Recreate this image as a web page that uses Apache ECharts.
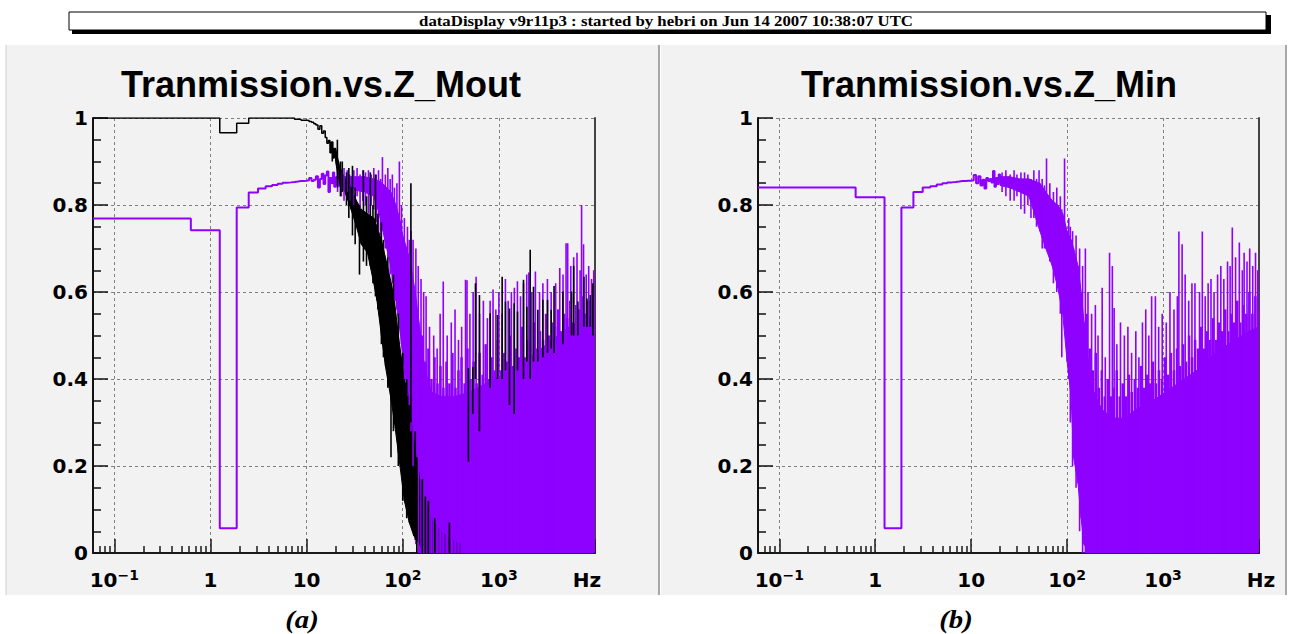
<!DOCTYPE html>
<html><head><meta charset="utf-8">
<script src="https://cdn.jsdelivr.net/npm/echarts@6/dist/echarts.min.js"></script>
<style>html,body{margin:0;padding:0;background:#fff}#c{width:1293px;height:634px}</style>
</head><body><div id="c"></div>
<script>
// ---------------- data ----------------
const headerText = 'dataDisplay v9r11p3 : started by hebri on Jun 14 2007 10:38:07 UTC';
const panelTitles = ['Tranmission.vs.Z_Mout', 'Tranmission.vs.Z_Min'];
const panelCaptions = ['(a)', '(b)'];

const xDecades = [0.1, 1, 10, 100, 1000, 10000];
const xTickLabels = [['10', '\u22121'], ['1', ''], ['10', ''], ['10', '2'], ['10', '3'], ['Hz', '']];
const xMinorTicks = [0.07, 0.08, 0.09, 0.2, 0.3, 0.4, 0.5, 0.6, 0.7, 0.8, 0.9, 2, 3, 4, 5, 6, 7, 8, 9,
  20, 30, 40, 50, 60, 70, 80, 90, 200, 300, 400, 500, 600, 700, 800, 900, 2000, 3000, 4000, 5000, 6000, 7000, 8000, 9000];
const yTickLabels = ['0', '0.2', '0.4', '0.6', '0.8', '1'];

// low-frequency histogram bins (left edges, Hz)
const binEdges = [0.06, 0.625, 1.25, 1.875, 2.5, 3.125, 3.75, 4.375, 5, 5.625, 6.25, 6.875, 7.5, 8.125, 8.75, 9.375,
  10, 10.625, 11.25, 11.875, 12.5, 13.125, 13.75, 14.375, 15, 15.625, 16.25, 16.875, 17.5, 18.125, 18.75, 19.375, 20];
// frequencies of the dense high-frequency strokes (Hz)
const denseF = [160, 172, 185, 199, 214, 230, 247, 265, 285, 306, 329, 354, 380, 409, 440, 472, 508, 546, 587, 631, 678, 729,
  784, 842, 906, 974, 1047, 1125, 1210, 1300, 1398, 1503, 1615, 1737, 1867, 2007, 2157, 2319, 2493, 2680, 2881, 3097, 3329,
  3579, 3847, 4136, 4446, 4779, 5138, 5523, 5937, 6382, 6861, 7376, 7929, 8523, 9163, 9850];

// (a) black histogram
const blkLStepF = [0.06, 1.25, 1.875, 2.5, 7.5, 8.75, 10, 10.625, 11.25, 11.875, 12.5, 13.125, 13.75, 14.375, 15, 15.625, 16.25, 16.875, 17.5, 18.125, 18.75, 19.375, 20];
const blkLStepV = [1.0, 0.966, 0.988, 1.0, 0.997, 0.995, 0.994, 0.992, 0.99, 0.987, 0.984, 0.974, 0.982, 0.965, 0.97, 0.955, 0.942, 0.948, 0.92, 0.945, 0.908, 0.93, 0.91];
const blkLBandF  = [20, 22, 25, 29, 33, 37, 43, 50, 54, 60, 66, 76, 82, 90, 104, 117, 130, 150, 168, 193, 250, 320, 400];
const blkLBandLo = [0.90, 0.85, 0.83, 0.79, 0.75, 0.71, 0.69, 0.62, 0.58, 0.50, 0.43, 0.35, 0.30, 0.23, 0.12, 0.07, 0.04, 0.02, 0.0, 0.0, 0.0, 0.0, 0.0];
const blkLBandHi = [0.93, 0.89, 0.86, 0.84, 0.81, 0.79, 0.78, 0.77, 0.75, 0.72, 0.68, 0.62, 0.58, 0.50, 0.40, 0.35, 0.26, 0.17, 0.12, 0.08, 0.05, 0.03, 0.02];
const blkLSpikes = [[18.5, 0.90, 0.945], [20.9, 0.84, 0.95], [22.5, 0.82, 0.90], [23.5, 0.83, 0.90], [26, 0.80, 0.875], [27.5, 0.77, 0.885],
  [30, 0.73, 0.89], [32, 0.71, 0.84], [35.5, 0.64, 0.80], [39, 0.67, 0.88], [42, 0.66, 0.82], [46, 0.66, 0.875], [49, 0.62, 0.80],
  [52, 0.59, 0.87], [55, 0.56, 0.78], [60, 0.48, 0.76], [63, 0.45, 0.72], [70, 0.38, 0.68], [75.5, 0.22, 0.62], [80, 0.28, 0.64],
  [90, 0.2, 0.55], [100, 0.12, 0.46], [110, 0.08, 0.40], [121.6, 0.30, 0.85], [135, 0.03, 0.28], [140, 0, 0.22], [160, 0, 0.17],
  [172, 0, 0.13], [185, 0, 0.12], [215, 0, 0.08], [306, 0, 0.07],
  [482, 0.21, 0.425], [535, 0.32, 0.428], [571, 0.40, 0.62], [628, 0.28, 0.593], [811, 0.38, 0.551], [967, 0.40, 0.547],
  [1082, 0.40, 0.635], [1172, 0.42, 0.578], [1290, 0.34, 0.562], [1443, 0.32, 0.574], [1563, 0.42, 0.555], [1804, 0.40, 0.628],
  [1954, 0.44, 0.566], [2118, 0.40, 0.697], [2293, 0.44, 0.612], [2544, 0.44, 0.559], [2867, 0.45, 0.582], [3208, 0.46, 0.582],
  [3505, 0.47, 0.559], [3750, 0.46, 0.614], [4634, 0.48, 0.601], [5706, 0.50, 0.601], [6000, 0.50, 0.66], [6637, 0.50, 0.578],
  [7667, 0.52, 0.635], [8243, 0.52, 0.585], [8933, 0.52, 0.593], [9500, 0.50, 0.62]];

// (a) violet histogram
const purLStepV = [0.769, 0.742, 0.057, 0.794, 0.829, 0.838, 0.843, 0.846, 0.849, 0.851, 0.852, 0.853, 0.854, 0.855, 0.855, 0.856,
  0.857, 0.862, 0.855, 0.858, 0.866, 0.84, 0.86, 0.872, 0.848, 0.868, 0.877, 0.83, 0.862, 0.85, 0.875, 0.842, 0.86];
const purLBandF  = [20, 25, 30, 40, 50, 57, 65, 75, 85, 95, 100, 110, 120, 126, 135, 150, 170, 200, 250, 350, 500, 735, 1100, 1630, 2420, 3600, 5400, 8090, 10000];
const purLBandLo = [0.845, 0.84, 0.835, 0.83, 0.82, 0.78, 0.72, 0.66, 0.58, 0.50, 0.45, 0.38, 0.30, 0.26, 0.08, 0, 0, 0, 0, 0, 0, 0, 0, 0, 0, 0, 0, 0, 0];
const purLBandHi = [0.865, 0.865, 0.865, 0.865, 0.86, 0.855, 0.845, 0.83, 0.80, 0.76, 0.73, 0.70, 0.67, 0.64, 0.60, 0.52, 0.42, 0.37, 0.36, 0.36, 0.37, 0.39, 0.41, 0.43, 0.46, 0.49, 0.52, 0.54, 0.55];
const purLDenseHi = [0.50, 0.44, 0.47, 0.40, 0.45, 0.39, 0.43, 0.38, 0.44, 0.39, 0.46, 0.38, 0.42, 0.45, 0.39, 0.47, 0.40, 0.44, 0.39,
  0.46, 0.41, 0.48, 0.40, 0.45, 0.42, 0.49, 0.42, 0.46, 0.44, 0.50, 0.43, 0.47, 0.45, 0.52, 0.45, 0.49, 0.47, 0.53, 0.47, 0.51, 0.49,
  0.55, 0.50, 0.53, 0.52, 0.56, 0.51, 0.55, 0.54, 0.58, 0.53, 0.57, 0.56, 0.59, 0.55, 0.58, 0.57, 0.59];
const purLSpikes = [[21, 0.83, 0.88], [23, 0.82, 0.875], [24.5, 0.81, 0.885], [26.5, 0.83, 0.88], [28, 0.81, 0.87], [31, 0.80, 0.88],
  [33.5, 0.82, 0.885], [36, 0.79, 0.87], [38.5, 0.81, 0.88], [41, 0.80, 0.875], [44, 0.78, 0.88], [47, 0.80, 0.87], [50, 0.79, 0.885],
  [53, 0.76, 0.87], [56, 0.74, 0.88], [59, 0.73, 0.86], [61.5, 0.75, 0.91], [66, 0.70, 0.87], [70, 0.68, 0.885], [74, 0.64, 0.86],
  [78, 0.62, 0.87], [82, 0.58, 0.84], [87, 0.56, 0.85], [92.3, 0.55, 0.90], [97, 0.48, 0.80], [104, 0.40, 0.77], [112, 0.36, 0.75],
  [117, 0.34, 0.72], [122, 0.28, 0.74], [128, 0.2, 0.72], [137, 0.02, 0.70], [145, 0, 0.66], [155, 0, 0.63], [165, 0, 0.60],
  [175, 0, 0.59], [190, 0, 0.52], [210, 0, 0.50], [228, 0, 0.47], [245, 0, 0.55], [264, 0, 0.624], [290, 0, 0.50], [320, 0, 0.53],
  [350, 0, 0.56], [380, 0, 0.49], [410, 0, 0.52], [450, 0, 0.628], [466, 0, 0.627], [500, 0, 0.55], [540, 0, 0.60], [580, 0, 0.635],
  [630, 0, 0.55], [690, 0, 0.58], [760, 0, 0.54], [811, 0, 0.58], [870, 0, 0.606], [930, 0, 0.56], [1000, 0, 0.60], [1080, 0, 0.55],
  [1170, 0, 0.63], [1250, 0, 0.58], [1350, 0, 0.60], [1450, 0, 0.61], [1560, 0, 0.625], [1680, 0, 0.59], [1804, 0, 0.62],
  [1950, 0, 0.64], [2050, 0, 0.645], [2200, 0, 0.60], [2400, 0, 0.647], [2650, 0, 0.60], [2870, 0, 0.62], [3200, 0, 0.63],
  [3500, 0, 0.60], [3900, 0, 0.62], [4300, 0, 0.655], [4650, 0, 0.64], [5000, 0, 0.712], [5200, 0, 0.712], [5600, 0, 0.66],
  [6000, 0, 0.68], [6500, 0, 0.69], [7000, 0, 0.65], [7250, 0, 0.80], [7600, 0, 0.71], [8100, 0, 0.64], [8600, 0, 0.66],
  [9200, 0, 0.63], [9700, 0, 0.65]];

// (b) violet histogram
const purRStepV = [0.840, 0.818, 0.057, 0.794, 0.830, 0.840, 0.843, 0.847, 0.850, 0.852, 0.853, 0.854, 0.855, 0.855, 0.856, 0.856,
  0.857, 0.869, 0.850, 0.866, 0.845, 0.858, 0.838, 0.862, 0.855, 0.860, 0.852, 0.878, 0.842, 0.862, 0.848, 0.87, 0.85];
const purRBandF  = [20, 25, 32, 40, 52, 60, 70, 80, 90, 100, 110, 117, 130, 140, 150, 170, 190, 230, 300, 400, 520, 780, 1230, 2260, 3560, 5580, 8000, 10000];
const purRBandLo = [0.845, 0.84, 0.83, 0.82, 0.74, 0.70, 0.66, 0.61, 0.55, 0.44, 0.36, 0.22, 0.16, 0.08, 0.02, 0, 0, 0, 0, 0, 0, 0, 0, 0, 0, 0, 0, 0];
const purRBandHi = [0.865, 0.865, 0.86, 0.86, 0.85, 0.83, 0.81, 0.80, 0.78, 0.74, 0.72, 0.70, 0.66, 0.60, 0.53, 0.42, 0.37, 0.33, 0.31, 0.31, 0.33, 0.35, 0.38, 0.42, 0.46, 0.49, 0.51, 0.52];
const purRDenseHi = [0.55, 0.47, 0.42, 0.46, 0.38, 0.42, 0.36, 0.40, 0.36, 0.38, 0.42, 0.36, 0.39, 0.36, 0.41, 0.37, 0.40, 0.38,
  0.43, 0.38, 0.41, 0.39, 0.44, 0.39, 0.42, 0.40, 0.45, 0.41, 0.46, 0.42, 0.47, 0.43, 0.48, 0.44, 0.50, 0.45, 0.49, 0.47, 0.52, 0.47,
  0.51, 0.49, 0.54, 0.49, 0.53, 0.51, 0.56, 0.51, 0.55, 0.53, 0.58, 0.53, 0.57, 0.55, 0.60, 0.55, 0.59, 0.56];
const purRSpikes = [[21, 0.83, 0.875], [23, 0.82, 0.88], [25.5, 0.81, 0.87], [28, 0.81, 0.88], [30, 0.82, 0.87], [33, 0.79, 0.875],
  [36, 0.78, 0.875], [39, 0.80, 0.87], [42, 0.77, 0.86], [45, 0.77, 0.88], [48, 0.75, 0.86], [51, 0.76, 0.88], [55, 0.70, 0.86],
  [58, 0.70, 0.845], [61, 0.75, 0.907], [66, 0.67, 0.85], [72, 0.62, 0.83], [78, 0.60, 0.84], [85, 0.55, 0.82], [88, 0.45, 0.79],
  [94, 0.70, 0.907], [104, 0.40, 0.77], [108, 0.3, 0.75], [114, 0.2, 0.74], [124, 0.15, 0.73], [135, 0.05, 0.70], [145, 0, 0.66],
  [155, 0, 0.70], [165, 0, 0.60], [180, 0, 0.55], [197, 0, 0.57], [210, 0, 0.50], [232, 0, 0.61], [250, 0, 0.45], [277, 0, 0.69],
  [296, 0, 0.66], [309, 0, 0.563], [330, 0, 0.48], [360, 0, 0.53], [395, 0, 0.50], [430, 0, 0.52], [470, 0, 0.46], [520, 0, 0.51],
  [560, 0, 0.45], [610, 0, 0.53], [660, 0, 0.56], [710, 0, 0.50], [760, 0, 0.59], [832, 0, 0.59], [900, 0, 0.52], [980, 0, 0.55],
  [1080, 0, 0.53], [1180, 0, 0.60], [1300, 0, 0.56], [1410, 0, 0.59], [1462, 0, 0.739], [1580, 0, 0.71], [1700, 0, 0.64],
  [1850, 0, 0.58], [2000, 0, 0.62], [2150, 0, 0.62], [2400, 0, 0.60], [2565, 0, 0.739], [2750, 0, 0.59], [2950, 0, 0.62],
  [3160, 0, 0.63], [3400, 0, 0.60], [3700, 0, 0.64], [4000, 0, 0.66], [4300, 0, 0.63], [4700, 0, 0.67], [5000, 0, 0.66],
  [5270, 0, 0.748], [5700, 0, 0.68], [6240, 0, 0.714], [6700, 0, 0.65], [7000, 0, 0.69], [7500, 0, 0.67], [8000, 0, 0.70],
  [8600, 0, 0.66], [9200, 0, 0.69], [9700, 0, 0.65]];

// ---------------- styling ----------------
const VIOLET = '#8e00ff';
const BLACK = '#000000';
const AXIS_FONT = 'DejaVu Sans';
const TITLE_FONT = 'Liberation Sans';

function xLabelFormatter(v) {
  const lv = Math.log10(v);
  const i = xDecades.findIndex(d => Math.abs(Math.log10(d) - lv) < 1e-3);
  if (i < 0) return '';
  const b = xTickLabels[i][0], s = xTickLabels[i][1];
  if (b === 'Hz') return '{hz|Hz}';
  return s ? '{b|' + b + '}{s|' + s + '}' : '{b|' + b + '}';
}
function yLabelFormatter(v) {
  const i = Math.round(v / 0.2);
  return yTickLabels[i] !== undefined ? yTickLabels[i] : '';
}

const gridLine = {show: true, lineStyle: {color: '#808080', width: 1, type: [3, 3]}};

function mainX(gi, hzPad) {
  return {
    type: 'log', logBase: 10, gridIndex: gi, min: 0.06, max: 10000, position: 'bottom',
    axisLine: {show: true, onZero: false, lineStyle: {color: '#1a1a1a', width: 2}},
    axisTick: {show: true, inside: true, length: 14, lineStyle: {color: '#1a1a1a', width: 1.5}},
    minorTick: {show: false},
    splitLine: gridLine,
    axisLabel: {
      show: true, margin: 15, showMinLabel: true, showMaxLabel: true, hideOverlap: false,
      formatter: xLabelFormatter,
      rich: {
        b: {fontFamily: AXIS_FONT, fontWeight: 'bold', fontSize: 20, color: '#000', lineHeight: 24},
        s: {fontFamily: AXIS_FONT, fontWeight: 'bold', fontSize: 14, color: '#000', verticalAlign: 'top', lineHeight: 12},
        hz: {fontFamily: AXIS_FONT, fontWeight: 'bold', fontSize: 20, color: '#000', lineHeight: 24, padding: hzPad}
      }
    }
  };
}
function minorX(gi) {
  return {
    type: 'log', logBase: 10, gridIndex: gi, min: 0.06, max: 10000, position: 'bottom', offset: 0,
    axisLine: {show: false, onZero: false},
    axisTick: {show: true, inside: true, length: 7, customValues: xMinorTicks, lineStyle: {color: '#1a1a1a', width: 1.5}},
    axisLabel: {show: false}, splitLine: {show: false}
  };
}
function mainY(gi) {
  return {
    type: 'value', gridIndex: gi, min: 0, max: 1, interval: 0.2, position: 'left',
    axisLine: {show: true, onZero: false, lineStyle: {color: '#111', width: 2}},
    axisTick: {show: true, inside: true, length: 15, lineStyle: {color: '#111', width: 1.5}},
    minorTick: {show: true, splitNumber: 4, length: 8, lineStyle: {color: '#111', width: 1.5}},
    splitLine: gridLine,
    axisLabel: {fontFamily: AXIS_FONT, fontWeight: 'bold', fontSize: 20, color: '#000', margin: 5, formatter: yLabelFormatter}
  };
}
function borderY(gi) {
  return {
    type: 'value', gridIndex: gi, min: 0, max: 1, position: 'right',
    axisLine: {show: true, onZero: false, lineStyle: {color: '#444', width: 2}},
    axisTick: {show: false}, axisLabel: {show: false}, splitLine: {show: false}
  };
}

function stepSeries(xi, yi, F, V, color, width) {
  return {type: 'line', xAxisIndex: xi, yAxisIndex: yi, step: 'end', symbol: 'none', showSymbol: false,
    data: F.map((f, i) => [f, V[i]]), lineStyle: {color: color, width: width}, silent: true, animation: false, clip: true};
}
function bandSeries(xi, yi, F, LO, HI, color) {
  const data = [];
  for (let i = 0; i < F.length - 1; i++) data.push([F[i], LO[i], HI[i], F[i + 1], LO[i + 1], HI[i + 1]]);
  return {type: 'custom', xAxisIndex: xi, yAxisIndex: yi, data: data, silent: true, animation: false, clip: true,
    encode: {x: [0, 3], y: [1, 2, 4, 5]},
    renderItem: function (p, api) {
      const a = api.coord([api.value(0), api.value(1)]);
      const b = api.coord([api.value(3), api.value(4)]);
      const c = api.coord([api.value(3), api.value(5)]);
      const d = api.coord([api.value(0), api.value(2)]);
      return {type: 'polygon', shape: {points: [a, b, c, d]}, style: {fill: color, stroke: color, lineWidth: 1}};
    }};
}
function spikeSeries(xi, yi, S, color, width) {
  return {type: 'custom', xAxisIndex: xi, yAxisIndex: yi, data: S, silent: true, animation: false, clip: true,
    encode: {x: 0, y: [1, 2]},
    renderItem: function (p, api) {
      const a = api.coord([api.value(0), api.value(1)]);
      const b = api.coord([api.value(0), api.value(2)]);
      return {type: 'line', shape: {x1: a[0], y1: a[1], x2: b[0], y2: b[1]}, style: {stroke: color, lineWidth: width}};
    }};
}
function denseSeries(xi, yi, F, HI, color) {
  return spikeSeries(xi, yi, F.map((f, i) => [f, 0, HI[i]]), color, 2.5);
}

const option = {
  backgroundColor: '#ffffff',
  animation: false,
  grid: [
    {left: 93, right: 698, top: 118, bottom: 81, outerBoundsMode: 'none', containLabel: false},
    {left: 758, right: 34, top: 118, bottom: 81, outerBoundsMode: 'none', containLabel: false}
  ],
  xAxis: [mainX(0, [0, 16, 0, 0]), minorX(0), mainX(1, [0, 0, 0, 4]), minorX(1)],
  yAxis: [mainY(0), borderY(0), mainY(1), borderY(1)],
  graphic: {elements: [
    {type: 'rect', z: -10, shape: {x: 6, y: 45, width: 653, height: 550}, style: {fill: '#f2f2f2'}},
    {type: 'rect', z: -10, shape: {x: 661, y: 45, width: 626, height: 550}, style: {fill: '#f2f2f2'}},
    {type: 'line', z: -9, shape: {x1: 659, y1: 45, x2: 659, y2: 595}, style: {stroke: '#a8a8a8', lineWidth: 2}},
    {type: 'line', z: -9, shape: {x1: 1286, y1: 45, x2: 1286, y2: 595}, style: {stroke: '#a8a8a8', lineWidth: 2}},
    {type: 'line', z: -9, shape: {x1: 6, y1: 45, x2: 6, y2: 595}, style: {stroke: '#d0d0d0', lineWidth: 1}},
    {type: 'rect', z: 5, shape: {x: 72, y: 15, width: 1199, height: 19}, style: {fill: '#000'}},
    {type: 'rect', z: 6, shape: {x: 69, y: 12, width: 1197, height: 18}, style: {fill: '#fff', stroke: '#000', lineWidth: 1}},
    {type: 'text', z: 7, x: 666, y: 21, scaleX: 1.2, style: {text: headerText, x: 0, y: 0, align: 'center', verticalAlign: 'middle',
      fontFamily: 'Liberation Serif', fontWeight: 'bold', fontSize: 14, fill: '#000'}},
    {type: 'text', z: 7, x: 321, y: 84, style: {text: panelTitles[0], x: 0, y: 0, align: 'center', verticalAlign: 'middle',
      fontFamily: TITLE_FONT, fontWeight: 'bold', fontSize: 36, fill: '#000'}},
    {type: 'text', z: 7, x: 989, y: 84, style: {text: panelTitles[1], x: 0, y: 0, align: 'center', verticalAlign: 'middle',
      fontFamily: TITLE_FONT, fontWeight: 'bold', fontSize: 36, fill: '#000'}},
    {type: 'text', z: 7, x: 302, y: 620, scaleX: 1.15, style: {text: panelCaptions[0], x: 0, y: 0, align: 'center', verticalAlign: 'middle',
      fontFamily: 'Liberation Serif', fontStyle: 'italic', fontWeight: 'bold', fontSize: 25, fill: '#000'}},
    {type: 'text', z: 7, x: 956, y: 620, scaleX: 1.15, style: {text: panelCaptions[1], x: 0, y: 0, align: 'center', verticalAlign: 'middle',
      fontFamily: 'Liberation Serif', fontStyle: 'italic', fontWeight: 'bold', fontSize: 25, fill: '#000'}}
  ]},
  series: [
    // panel (a)
    bandSeries(0, 0, purLBandF, purLBandLo, purLBandHi, VIOLET),
    bandSeries(0, 0, blkLBandF, blkLBandLo, blkLBandHi, BLACK),
    stepSeries(0, 0, blkLStepF, blkLStepV, BLACK, 1.5),
    denseSeries(0, 0, denseF, purLDenseHi, VIOLET),
    spikeSeries(0, 0, purLSpikes, VIOLET, 1.6),
    stepSeries(0, 0, binEdges, purLStepV, VIOLET, 2),
    spikeSeries(0, 0, blkLSpikes, BLACK, 1.6),
    // panel (b)
    bandSeries(2, 2, purRBandF, purRBandLo, purRBandHi, VIOLET),
    denseSeries(2, 2, denseF, purRDenseHi, VIOLET),
    spikeSeries(2, 2, purRSpikes, VIOLET, 1.6),
    stepSeries(2, 2, binEdges, purRStepV, VIOLET, 2)
  ]
};

const chart = echarts.init(document.getElementById('c'), null, {renderer: 'svg', width: 1293, height: 634});
chart.setOption(option);
</script></body></html>
